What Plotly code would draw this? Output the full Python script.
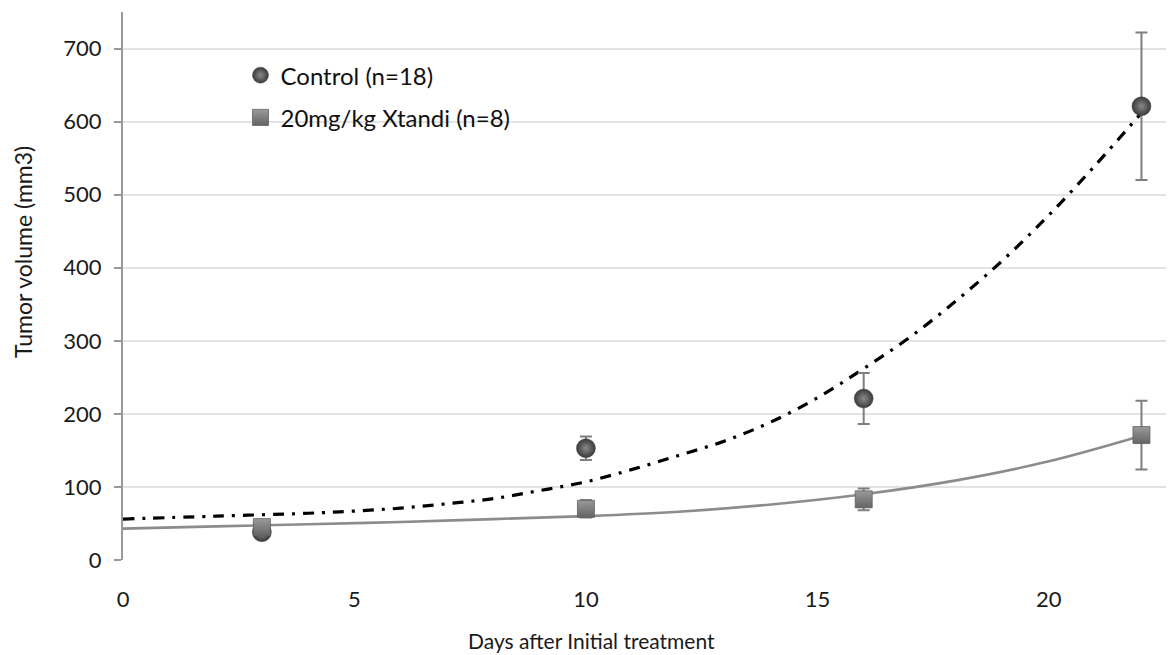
import plotly.graph_objects as go

days = [3, 10, 16, 22]
control_mean = [38, 153, 221, 621]
control_err = [4, 16, 35, 101]
xtandi_mean = [45, 70, 83, 171]
xtandi_err = [4, 12, 15, 47]

# Trend curves
trend_days = [0, 2, 4, 5, 6, 7, 8, 9, 10, 11, 12, 13, 14, 15, 16, 17, 18, 19, 20, 21, 22]
control_trend = [56, 60, 64, 67, 71, 77, 84, 95, 107, 124, 143, 163, 189, 222, 262, 305, 355, 410, 472, 540, 612]
xtandi_trend_days = [0, 2, 4, 6, 8, 10, 12, 14, 16, 18, 20, 22]
xtandi_trend = [43, 46, 49, 52, 56, 60, 66, 76, 90, 109, 135, 170]

y_ticks = [0, 100, 200, 300, 400, 500, 600, 700]
x_ticks = [0, 5, 10, 15, 20]

x_title = "Days after Initial treatment"
y_title = "Tumor volume (mm3)"

FONT = "Lato, 'Open Sans', sans-serif"

fig = go.Figure()

fig.add_trace(go.Scatter(
    x=trend_days, y=control_trend, mode="lines", line_shape="spline",
    line=dict(color="#000000", width=3.2, dash="11px,8px,3px,8px"),
    showlegend=False, hoverinfo="skip"))
fig.add_trace(go.Scatter(
    x=xtandi_trend_days, y=xtandi_trend, mode="lines", line_shape="spline",
    line=dict(color="#8c8c8c", width=2.6),
    showlegend=False, hoverinfo="skip"))

fig.add_trace(go.Scatter(
    x=days, y=control_mean, mode="markers", name="Control (n=18)",
    legendgroup="a",
    marker=dict(symbol="circle", size=19, color="#3a3a3a",
                gradient=dict(type="radial", color="#8a8a8a"),
                line=dict(color="#4a4a4a", width=0.5)),
    error_y=dict(type="data", array=control_err, visible=True,
                 color="#7f7f7f", thickness=2, width=6)))
fig.add_trace(go.Scatter(
    x=days, y=xtandi_mean, mode="markers", name="20mg/kg Xtandi (n=8)",
    legendgroup="b",
    marker=dict(symbol="square", size=17, color="#9a9a9a",
                gradient=dict(type="vertical", color="#646464"),
                line=dict(color="#606060", width=0.8)),
    error_y=dict(type="data", array=xtandi_err, visible=True,
                 color="#7f7f7f", thickness=2, width=6)))

fig.add_annotation(text=y_title, xref="paper", yref="paper", x=0, y=0.562,
                   xanchor="center", yanchor="middle", xshift=-100,
                   textangle=-90, showarrow=False,
                   font=dict(size=23, color="#1a1a1a"))
fig.add_annotation(text=x_title, xref="paper", yref="paper", x=0.447, y=0,
                   xanchor="center", yanchor="middle", yshift=-80,
                   showarrow=False, font=dict(size=21, color="#1a1a1a"))

fig.update_layout(
    width=1166, height=647,
    margin=dict(l=115, r=2, t=4, b=95),
    paper_bgcolor="white", plot_bgcolor="white",
    font=dict(family=FONT, size=23, color="#1a1a1a"),
    legend=dict(x=0.112, y=0.925, xanchor="left", yanchor="top",
                bgcolor="rgba(0,0,0,0)", font=dict(size=24, color="#111"),
                tracegroupgap=8, traceorder="grouped", itemwidth=30),
    xaxis=dict(range=[0, 22.66], tickvals=x_ticks, showgrid=False,
               zeroline=False, showline=False, ticks="",
               tickfont=dict(size=22), ticklabelstandoff=24),
    yaxis=dict(range=[0, 750], tickvals=y_ticks, showgrid=True,
               gridcolor="#e3e3e3", gridwidth=1.5, zeroline=False,
               showline=True, linecolor="#999999", linewidth=2,
               ticks="outside", ticklen=7, tickcolor="#999999", tickwidth=2,
               tickfont=dict(size=22), ticklabelstandoff=8),
    yaxis2=dict(range=[0, 750], tickvals=y_ticks, overlaying="y", side="left",
                showgrid=False, zeroline=False, showline=False,
                ticks="inside", ticklen=7, tickcolor="#999999", tickwidth=2,
                showticklabels=False),
)

fig.write_html("out.html")
